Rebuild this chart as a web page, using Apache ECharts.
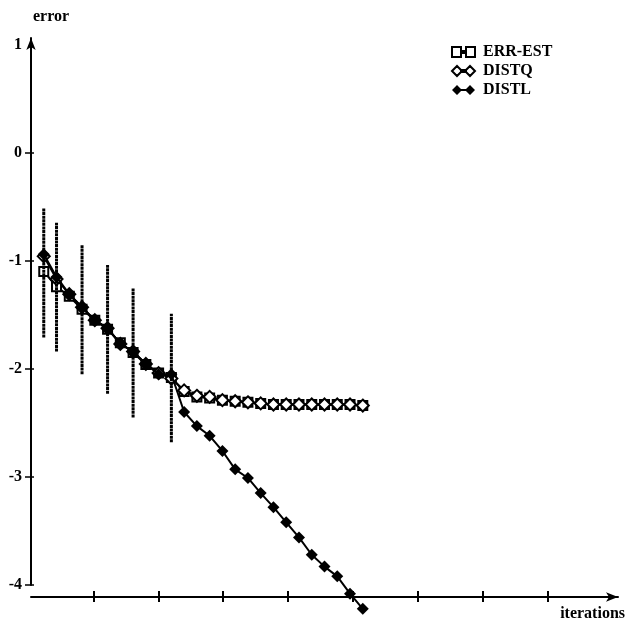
<!DOCTYPE html>
<html><head><meta charset="utf-8">
<script src="https://cdn.jsdelivr.net/npm/echarts@6/dist/echarts.min.js"></script>
<style>html,body{margin:0;padding:0;background:#fff}#c{width:632px;height:630px}</style>
</head><body><div id="c"></div>
<script>
const iterations = [1,2,3,4,5,6,7,8,9,10,11,12,13,14,15,16,17,18,19,20,21,22,23,24,25,26];
const errEst = [-1.10,-1.24,-1.33,-1.45,-1.55,-1.635,-1.76,-1.85,-1.96,-2.04,-2.08,-2.21,-2.26,-2.27,-2.29,-2.30,-2.31,-2.32,-2.33,-2.33,-2.33,-2.33,-2.33,-2.33,-2.33,-2.34];
const distQ = [-0.96,-1.17,-1.31,-1.43,-1.55,-1.625,-1.77,-1.84,-1.955,-2.04,-2.09,-2.20,-2.25,-2.26,-2.29,-2.30,-2.31,-2.32,-2.33,-2.33,-2.33,-2.33,-2.33,-2.33,-2.33,-2.34];
const distL = [-0.94,-1.15,-1.31,-1.43,-1.55,-1.625,-1.77,-1.84,-1.955,-2.05,-2.05,-2.40,-2.53,-2.62,-2.76,-2.93,-3.01,-3.15,-3.28,-3.42,-3.56,-3.72,-3.83,-3.92,-4.08,-4.22];
const barIter = [1,2,4,6,8,11];
const barHigh = [-0.51,-0.65,-0.855,-1.04,-1.25,-1.49];
const barLow = [-1.71,-1.84,-2.05,-2.23,-2.45,-2.68];
const yTickValues = [-4,-3,-2,-1,0];
const yLabelValues = [-4,-3,-2,-1,0,1];
const xTickValues = [4.95,10,15.05,20.15,25.2,30.3,35.4,40.5];

const FONT = 'Liberation Serif';
const txt = {fontFamily: FONT, fontWeight: 'bold', color: '#000'};
const chart = echarts.init(document.getElementById('c'), null, {renderer: 'canvas'});

const xBase = {
  type: 'value', min: 0, max: 46, position: 'bottom', offset: 12,
  splitLine: {show: false}, axisLabel: {show: false}
};
const yBase = {
  type: 'value', min: -4, max: 1.06, position: 'left',
  splitLine: {show: false}
};

chart.setOption({
  animation: false,
  backgroundColor: '#fff',
  title: [
    {text: 'error', left: 28, top: 4, textStyle: Object.assign({fontSize: 16}, txt)},
    {text: 'iterations', right: 2, top: 601, textStyle: Object.assign({fontSize: 16}, txt)}
  ],
  legend: {
    orient: 'vertical', left: 446, top: 39, itemWidth: 23, itemHeight: 10, itemGap: 3,
    textStyle: Object.assign({fontSize: 16, padding: [0, 0, 0, 3]}, txt),
    data: [
      {name: 'ERR-EST', icon: 'path://M0,0H9V10H0Z M9,4H14V6H9Z M14,0H23V10H14Z',
       itemStyle: {color: '#fff', borderColor: '#000', borderWidth: 2}},
      {name: 'DISTQ', icon: 'path://M0,5L5,0L10,5L5,10Z M9,4H14V6H9Z M13,5L18,0L23,5L18,10Z',
       itemStyle: {color: '#fff', borderColor: '#000', borderWidth: 2}},
      {name: 'DISTL', icon: 'path://M0,5L5,0L10,5L5,10Z M9,4H14V6H9Z M13,5L18,0L23,5L18,10Z',
       itemStyle: {color: '#000', borderColor: '#000', borderWidth: 0}}
    ]
  },
  grid: {left: 31, right: 14, top: 38, bottom: 45},
  xAxis: [
    Object.assign({}, xBase, {
      axisLine: {show: true, onZero: false, lineStyle: {color: '#000', width: 2}, symbol: ['none', 'arrow'], symbolSize: [7, 12]},
      axisTick: {show: true, inside: false, length: 5, lineStyle: {color: '#000', width: 2}, customValues: xTickValues}
    }),
    Object.assign({}, xBase, {
      axisLine: {show: false, onZero: false},
      axisTick: {show: true, inside: true, length: 6, lineStyle: {color: '#000', width: 2}, customValues: xTickValues}
    })
  ],
  yAxis: [
    Object.assign({}, yBase, {
      axisLine: {show: true, onZero: false, lineStyle: {color: '#000', width: 2}, symbol: ['none', 'arrow'], symbolSize: [7, 12]},
      axisTick: {show: true, inside: false, length: 6, lineStyle: {color: '#000', width: 1.5}, customValues: yTickValues},
      axisLabel: Object.assign({show: true, fontSize: 16, margin: 9, customValues: yLabelValues}, txt)
    }),
    Object.assign({}, yBase, {
      axisLine: {show: false, onZero: false},
      axisTick: {show: true, inside: true, length: 3, lineStyle: {color: '#000', width: 1.5}, customValues: yTickValues},
      axisLabel: {show: false}
    })
  ],
  series: [
    {
      name: 'ERR-EST', type: 'line', z: 2, clip: false,
      data: iterations.map((x, i) => [x, errEst[i]]),
      symbol: 'rect', symbolSize: 9, showAllSymbol: true,
      lineStyle: {color: '#000', width: 2},
      itemStyle: {color: '#fff', borderColor: '#000', borderWidth: 2}
    },
    {
      name: 'DISTQ', type: 'line', z: 3, clip: false,
      data: iterations.map((x, i) => [x, distQ[i]]),
      symbol: 'diamond', symbolSize: [12, 12], showAllSymbol: true,
      lineStyle: {color: '#000', width: 2},
      itemStyle: {color: '#fff', borderColor: '#000', borderWidth: 2}
    },
    {
      name: 'DISTL', type: 'line', z: 4, clip: false,
      data: iterations.map((x, i) => [x, distL[i]]),
      symbol: 'diamond', symbolSize: [12, 12], showAllSymbol: true,
      lineStyle: {color: '#000', width: 2},
      itemStyle: {color: '#000', borderColor: '#000', borderWidth: 0}
    },
    {
      name: 'bars', type: 'custom', z: 5, silent: true, clip: false,
      data: barIter.map((x, i) => [x, barLow[i], barHigh[i]]),
      encode: {x: 0, y: [1, 2]},
      renderItem: function (params, api) {
        const x = api.value(0);
        const p1 = api.coord([x, api.value(1)]);
        const p2 = api.coord([x, api.value(2)]);
        return {type: 'line', shape: {x1: p1[0], y1: p1[1], x2: p2[0], y2: p2[1]},
                style: {stroke: '#000', lineWidth: 3, lineDash: [3, 0.6]}};
      }
    }
  ]
});
</script>
</body></html>
